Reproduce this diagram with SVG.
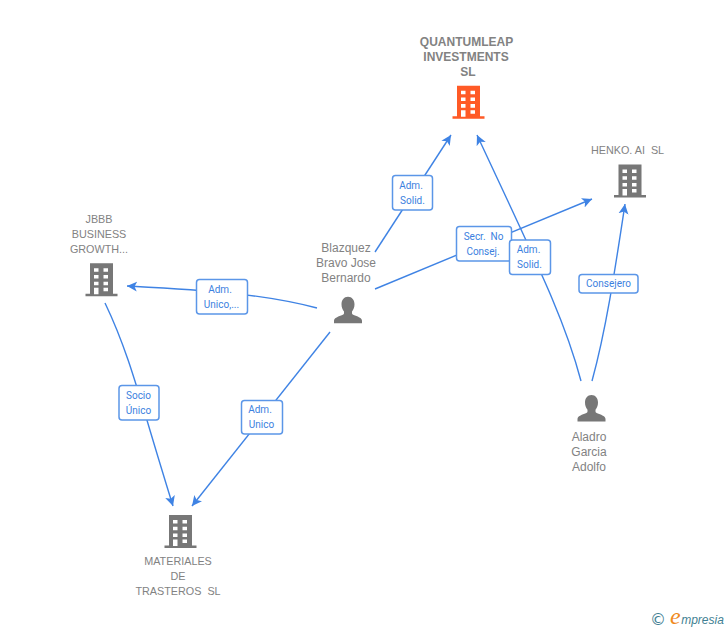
<svg xmlns="http://www.w3.org/2000/svg" xmlns:xlink="http://www.w3.org/1999/xlink" width="728" height="630" viewBox="0 0 728 630">
<style>
.n{font:12px "Liberation Sans",Arial,sans-serif;fill:#828282;text-anchor:middle}
.s{font-size:10.8px}
.q{font-weight:bold;font-size:12px}
.l{font:10px Roboto,"Liberation Sans",sans-serif;fill:#3b7fe0;text-anchor:middle}
.b{fill:#fff;stroke:#5b96e8;stroke-width:1.5}
.c{fill:none;stroke:#3f83e4;stroke-width:1.4}
.g{fill:#777}
.o{fill:#ff5a26}
.w{fill:#fff}
</style>
<defs>
<marker id="a" markerUnits="userSpaceOnUse" markerWidth="12" markerHeight="12" refX="10" refY="5" orient="auto" viewBox="0 0 12 10"><path d="M0,0 L10,5 L0,10 L2.5,5Z" fill="#3f83e4"/></marker>
<g id="bd">
<path d="M-11.5,0H11.5V30.500H16V33H-16V30.500H-11.500Z"/>
<path class="w" d="M-7.500,5H-3V8.500H-7.500ZM2,5H6.500V8.500H2ZM-7.500,11.700H-3V15.300H-7.500ZM2,11.700H6.500V15.300H2ZM-7.500,18.400H-3V22H-7.500ZM2,18.400H6.500V22H2ZM-7.500,24.500H-3V31H-7.500ZM2,24.500H6.500V28H2Z"/>
</g>
<path id="pn" d="M0,0C4,0 6.500,3.300 6.500,7.500C6.500,10.500 5.500,13 4,14.800V16.500C4,17.500 5,18 7,18.800C11,20.300 13.800,21.500 14,24V26.500H-14V24C-13.800,21.500 -11,20.300 -7,18.800C-5,18 -4,17.500 -4,16.500V14.800C-5.500,13 -6.500,10.500 -6.500,7.500C-6.500,3.300 -4,0 0,0Z"/>
</defs>
<g id="connectors">
<path class="c" marker-end="url(#a)" d="M375,252L451,135"/>
<path class="c" marker-end="url(#a)" d="M581,381C565,320 540,270 477,135"/>
<path class="c" marker-end="url(#a)" d="M375,289L592,199"/>
<path class="c" marker-end="url(#a)" d="M592,381C606,330 615,270 625,204"/>
<path class="c" marker-end="url(#a)" d="M317,308C260,293 200,290 127,286"/>
<path class="c" marker-end="url(#a)" d="M105,303C130,355 140,400 173,506"/>
<path class="c" marker-end="url(#a)" d="M330,332L192,506"/>
</g>
<g id="n-quantumleap">
<text class="n q" x="466.500" y="46">QUANTUMLEAP</text><text class="n q" x="466" y="61">INVESTMENTS</text><text class="n q" x="468" y="76">SL</text>
<use href="#bd" class="o" x="468.500" y="85.700"/>
</g>
<g id="n-henko">
<text class="n s" x="627.500" y="154" xml:space="preserve">HENKO. AI  SL</text>
<use href="#bd" class="g" x="630" y="164.500"/>
</g>
<g id="n-jbbb">
<text class="n s" x="99" y="223">JBBB</text><text class="n s" x="99" y="238">BUSINESS</text><text class="n s" x="99" y="253">GROWTH...</text>
<use href="#bd" class="g" x="101.500" y="263.300"/>
</g>
<g id="n-materiales">
<use href="#bd" class="g" x="180.500" y="515"/>
<text class="n s" x="178" y="565">MATERIALES</text><text class="n s" x="178" y="580">DE</text><text class="n s" x="178" y="595" xml:space="preserve">TRASTEROS  SL</text>
</g>
<g id="n-blazquez">
<text class="n" x="346" y="252">Blazquez</text><text class="n" x="346" y="267">Bravo Jose</text><text class="n" x="346" y="282">Bernardo</text>
<use href="#pn" class="g" x="348" y="296.700"/>
</g>
<g id="n-aladro">
<use href="#pn" class="g" x="591.500" y="395"/>
<text class="n" x="589" y="441">Aladro</text><text class="n" x="589" y="456">Garcia</text><text class="n" x="589" y="471">Adolfo</text>
</g>
<g id="e1"><rect class="b" x="392.500" y="175.500" width="40" height="34.500" rx="3"/><text class="l" x="411" y="189">Adm.</text><text class="l" x="412.500" y="204">Solid.</text></g>
<g id="e2"><rect class="b" x="456.500" y="226.500" width="55" height="34.500" rx="3"/><text class="l" x="483.500" y="240" xml:space="preserve">Secr.  No</text><text class="l" x="483" y="255">Consej.</text></g>
<g id="e3"><rect class="b" x="509.500" y="240" width="41" height="34.500" rx="3"/><text class="l" x="528.500" y="253">Adm.</text><text class="l" x="529.500" y="268">Solid.</text></g>
<g id="e4"><rect class="b" x="579" y="274.500" width="59" height="18.500" rx="3"/><text class="l" x="608.500" y="287">Consejero</text></g>
<g id="e5"><rect class="b" x="196.500" y="279.500" width="51" height="34.500" rx="3"/><text class="l" x="220" y="293">Adm.</text><text class="l" x="221.500" y="308">Unico,...</text></g>
<g id="e6"><rect class="b" x="119" y="385.500" width="40" height="34.500" rx="3"/><text class="l" x="138.500" y="399">Socio</text><text class="l" x="138.500" y="414">Único</text></g>
<g id="e7"><rect class="b" x="241.500" y="400.500" width="41" height="33.500" rx="3"/><text class="l" x="260" y="413">Adm.</text><text class="l" x="261.500" y="428">Unico</text></g>
<g id="logo">
<text x="658" y="625" font-family="DejaVu Sans,sans-serif" font-size="16" fill="#3f7f93" text-anchor="middle">©</text>
<text x="670" y="624" font-family="Liberation Sans,sans-serif" font-style="italic" font-size="12" fill="#3f7f93"><tspan font-family="Liberation Serif,serif" font-size="24" fill="#f08a1d">e</tspan><tspan dx="0.500">mpresia</tspan></text>
</g>
</svg>
